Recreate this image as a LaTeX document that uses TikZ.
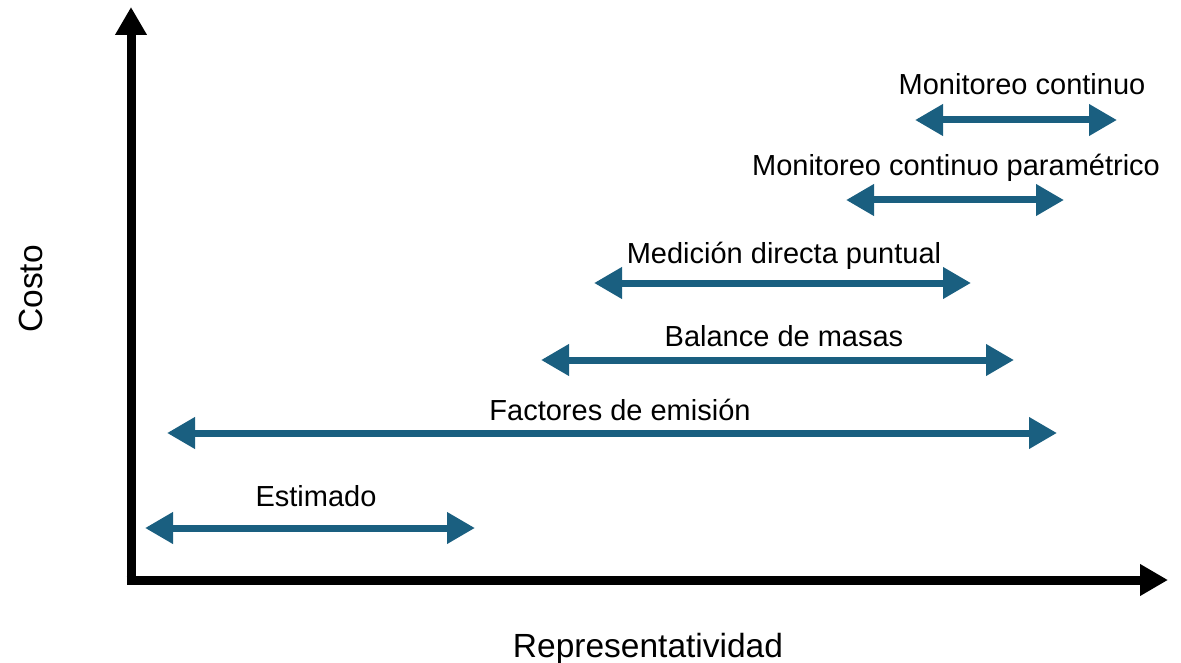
\documentclass[tikz,border=0pt]{standalone}
\usepackage{fontspec}
\setmainfont{Liberation Sans}
\usetikzlibrary{arrows.meta}
\definecolor{barblue}{HTML}{1A5F80}
\begin{document}
\begin{tikzpicture}[x=1pt,y=-1pt,
  axisline/.style={line width=9pt,-{Triangle[length=28pt,width=30pt]}},
  spanarrow/.style={barblue,line width=7pt,{Triangle[length=28pt,width=30pt]}-{Triangle[length=28pt,width=30pt]}},
  lbl/.style={font=\fontsize{29}{33}\selectfont,inner sep=0pt,anchor=center},
  axlbl/.style={font=\fontsize{33.5}{38}\selectfont,inner sep=0pt,anchor=base}]
\useasboundingbox (0,0) rectangle (1181,663);
% axes
\coordinate (o) at (131,580);
\coordinate (ytop) at (131,7);
\coordinate (xend) at (1168,580);
\coordinate (ybot) at (131,584.5);
\coordinate (xbeg) at (126.5,580);
\draw[axisline] (ybot) -- (ytop);
\draw[axisline] (xbeg) -- (xend);
\node[axlbl,rotate=90] (costo) at (42,289) {Costo};
\node[axlbl] (repr) at (648,657) {Representatividad};
% ranges
\coordinate (e1) at (145,528); \coordinate (e2) at (475,528);
\draw[spanarrow] (e1) -- (e2);
\node[lbl] (est) at (316,496) {Estimado};
\coordinate (f1) at (167,433); \coordinate (f2) at (1057,433);
\draw[spanarrow] (f1) -- (f2);
\node[lbl] (fac) at (620,410) {Factores de emisión};
\coordinate (b1) at (541,360); \coordinate (b2) at (1014,360);
\draw[spanarrow] (b1) -- (b2);
\node[lbl] (bal) at (784,336) {Balance de masas};
\coordinate (m1) at (594,283); \coordinate (m2) at (971,283);
\draw[spanarrow] (m1) -- (m2);
\node[lbl] (med) at (784,256) {Medición directa puntual};
\coordinate (p1) at (846,200); \coordinate (p2) at (1064,200);
\draw[spanarrow] (p1) -- (p2);
\node[lbl] (par) at (956,168) {Monitoreo continuo paramétrico};
\coordinate (c1) at (915,120); \coordinate (c2) at (1117,120);
\draw[spanarrow] (c1) -- (c2);
\node[lbl] (con) at (1022,84) {Monitoreo continuo};
\end{tikzpicture}
\end{document}
